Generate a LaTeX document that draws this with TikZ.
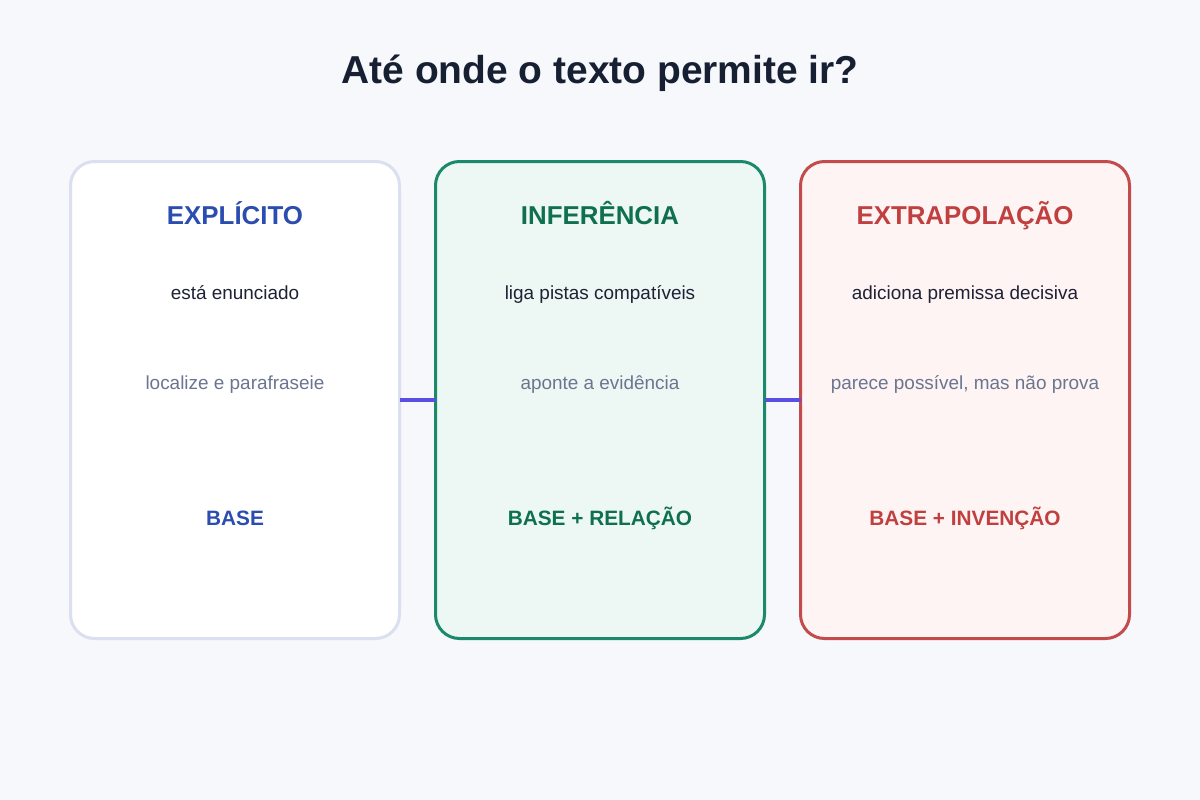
\documentclass[tikz,border=0pt]{standalone}
\usepackage{fontspec}
\setmainfont{Liberation Sans}
\definecolor{bg}{HTML}{F6F8FB}
\definecolor{titlec}{HTML}{172033}
\definecolor{darkt}{HTML}{1E2235}
\definecolor{greyt}{HTML}{6B7590}
\definecolor{blueh}{HTML}{2B4DB0}
\definecolor{blueb}{HTML}{DCDFF0}
\definecolor{greenh}{HTML}{0F7050}
\definecolor{greenb}{HTML}{1B8A6B}
\definecolor{greenf}{HTML}{EDF8F4}
\definecolor{redh}{HTML}{C0403F}
\definecolor{redb}{HTML}{C44B4B}
\definecolor{redf}{HTML}{FFF4F4}
\definecolor{link}{HTML}{5B4EE0}
\begin{document}
\begin{tikzpicture}[x=0.75pt,y=-0.75pt,
  card/.style={draw, line width=2.25pt, rounded corners=18pt, minimum width=249pt-2.25pt, minimum height=360pt-2.25pt, inner sep=0pt, outer sep=0pt},
  txt/.style={anchor=base, inner sep=0pt},
  head/.style={txt, font=\fontsize{19.4}{23}\selectfont\bfseries},
  line1/.style={txt, font=\fontsize{14.2}{17}\selectfont, text=darkt},
  line2/.style={txt, font=\fontsize{14.2}{17}\selectfont, text=greyt},
  foot/.style={txt, font=\fontsize{15.6}{19}\selectfont\bfseries},
  conn/.style={draw=link, line width=3pt}]
\useasboundingbox (0,0) rectangle (1200,800);
\fill[bg] (0,0) rectangle (1200,800);
\node[txt, font=\fontsize{29.2}{35}\selectfont\bfseries, text=titlec] (title) at (600,83) {Até onde o texto permite ir?};

\node[card, draw=blueb, fill=white] (c1) at (235,400) {};
\node[card, draw=greenb, fill=greenf] (c2) at (600,400) {};
\node[card, draw=redb, fill=redf] (c3) at (965,400) {};

\draw[conn] (c1.east) -- (c2.west);
\draw[conn] (c2.east) -- (c3.west);

\node[head, text=blueh] (h1) at (235,224) {EXPLÍCITO};
\node[line1] (a1) at (235,299) {está enunciado};
\node[line2] (b1) at (235,389) {localize e parafraseie};
\node[foot, text=blueh] (f1) at (235,525) {BASE};

\node[head, text=greenh] (h2) at (600,224) {INFERÊNCIA};
\node[line1] (a2) at (600,299) {liga pistas compatíveis};
\node[line2] (b2) at (600,389) {aponte a evidência};
\node[foot, text=greenh] (f2) at (600,525) {BASE + RELAÇÃO};

\node[head, text=redh] (h3) at (965,224) {EXTRAPOLAÇÃO};
\node[line1] (a3) at (965,299) {adiciona premissa decisiva};
\node[line2] (b3) at (965,389) {parece possível, mas não prova};
\node[foot, text=redh] (f3) at (965,525) {BASE + INVENÇÃO};
\end{tikzpicture}
\end{document}
